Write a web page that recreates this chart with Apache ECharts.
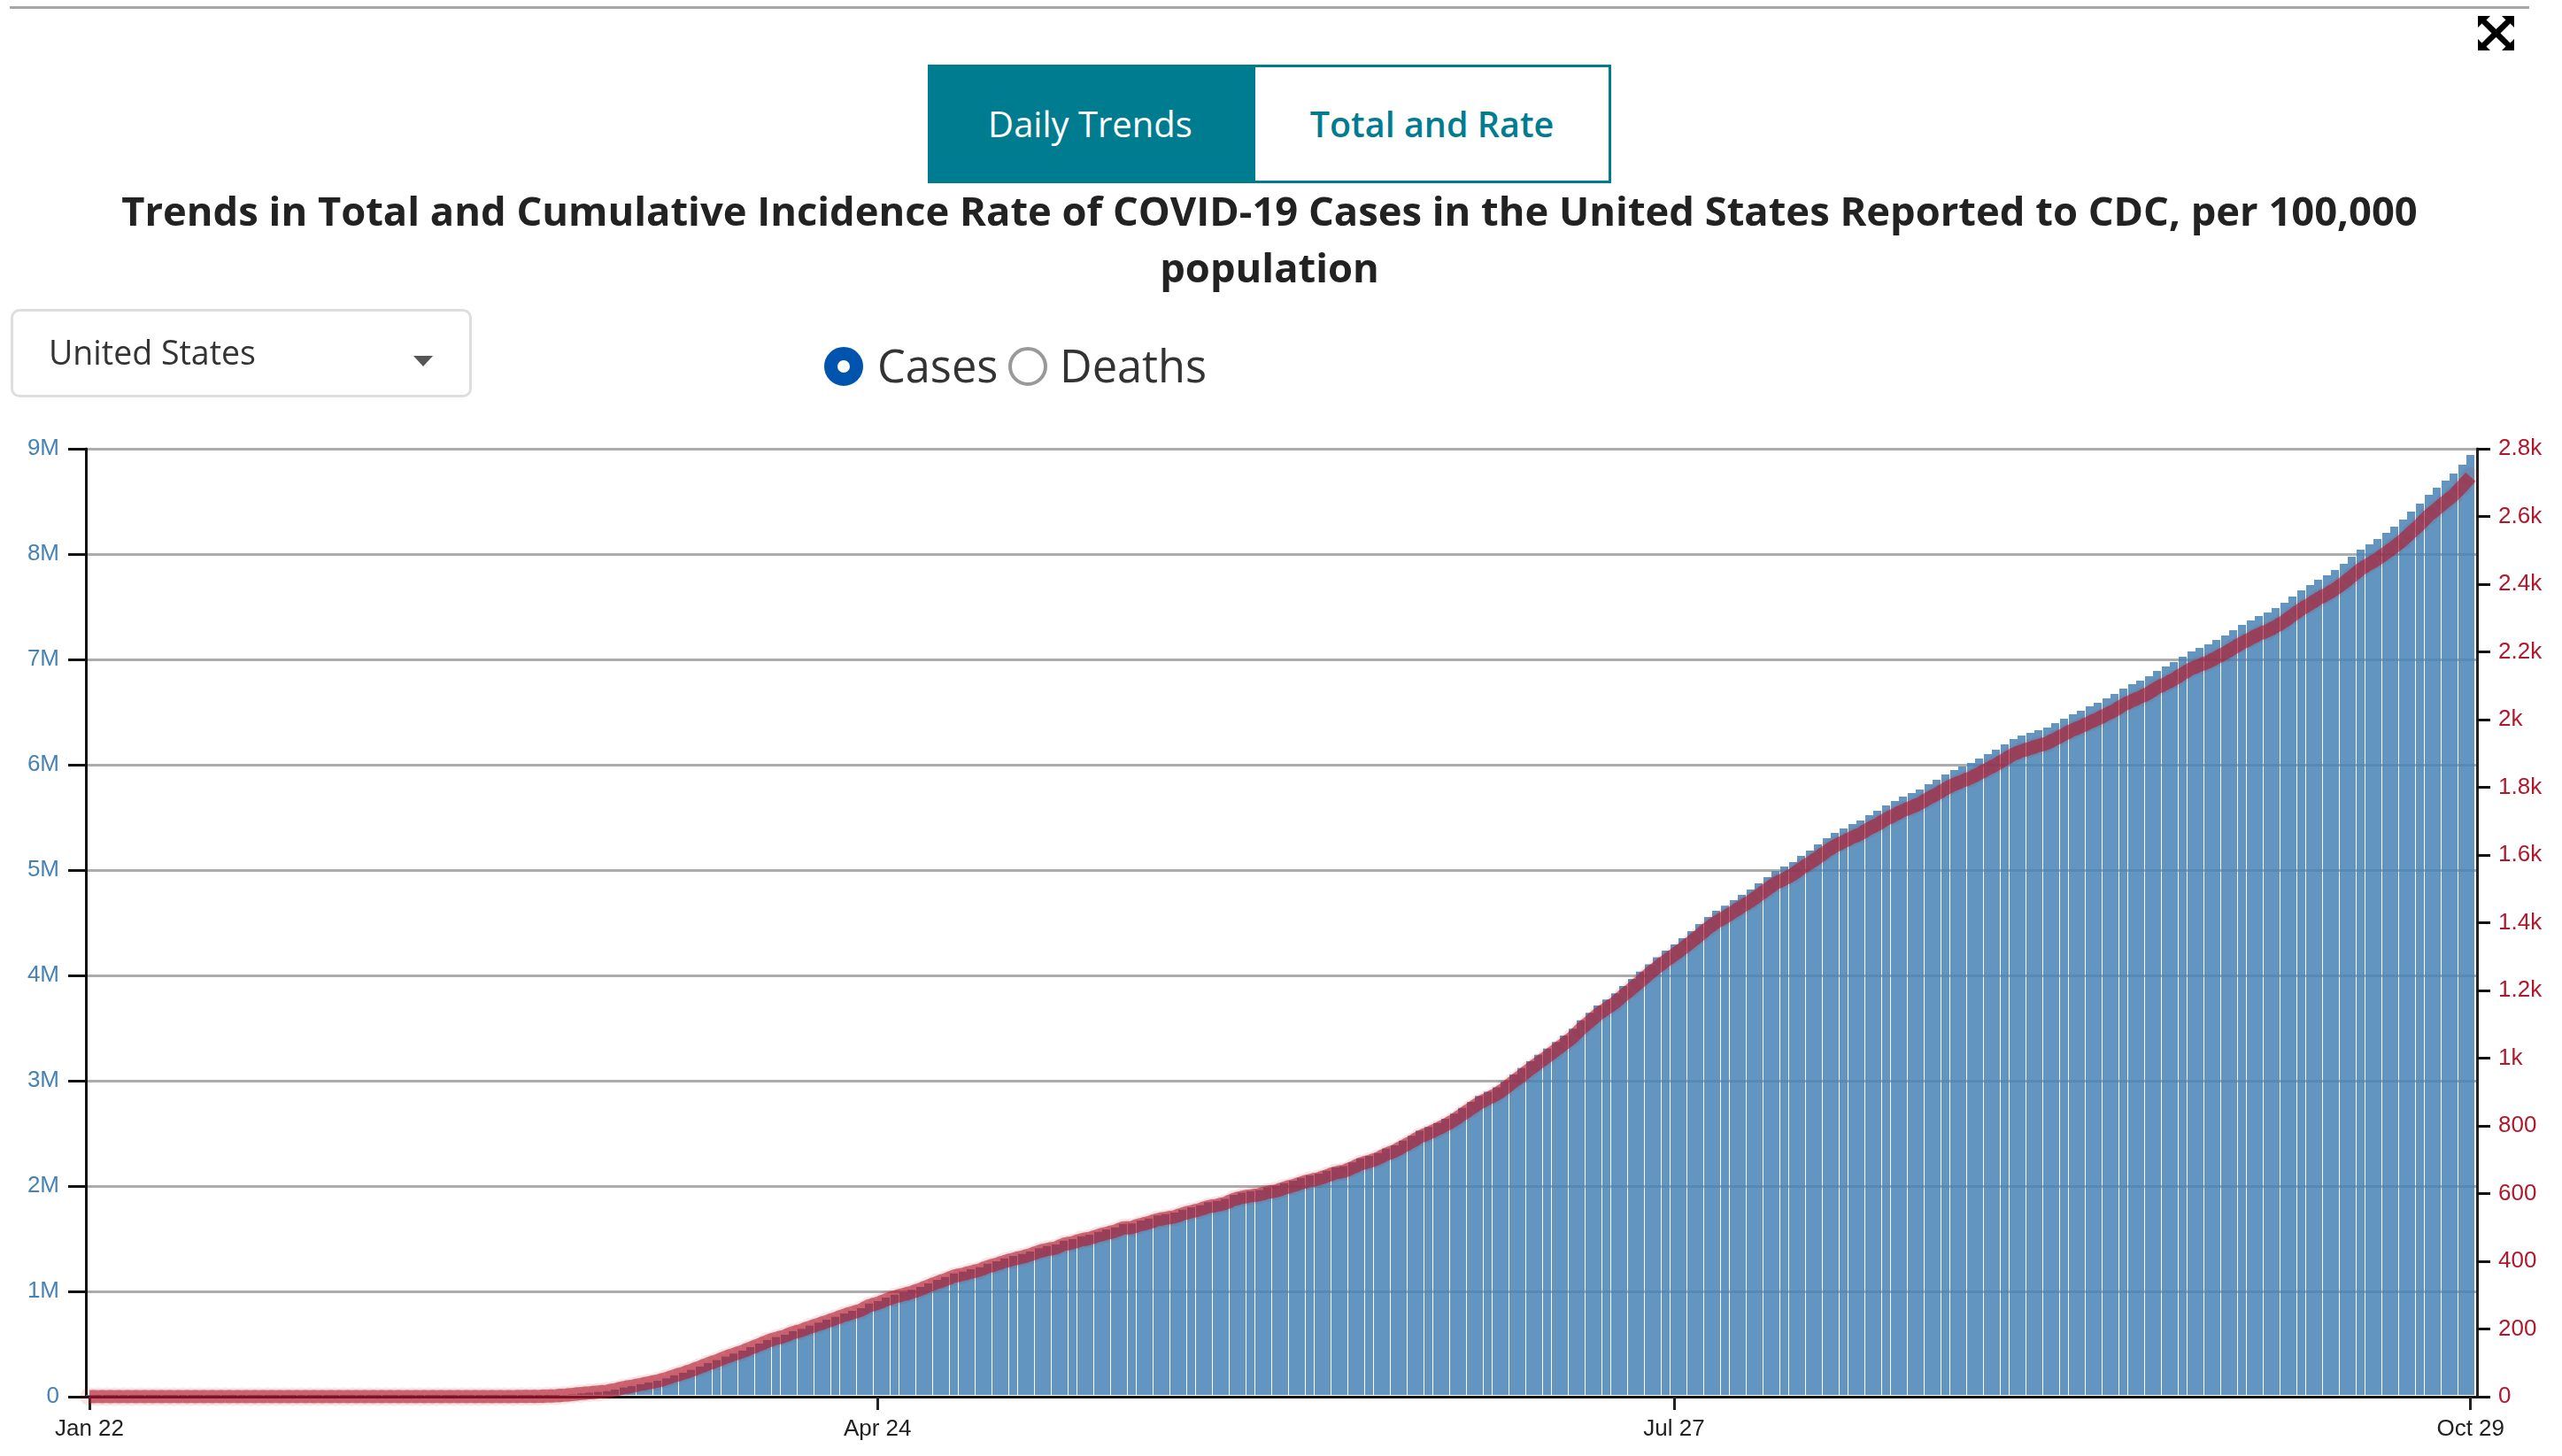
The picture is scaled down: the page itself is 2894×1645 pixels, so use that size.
<!DOCTYPE html>
<html>
<head>
<meta charset="utf-8">
<title>COVID-19 Total and Rate</title>
<script src="https://cdn.jsdelivr.net/npm/echarts@6/dist/echarts.min.js"></script>
<style>
    html, body { margin: 0; padding: 0; background: #fff; }
    body { width: 2894px; height: 1645px; position: relative; overflow: hidden; font-family: "Open Sans", sans-serif; color: #222; }
    #chart { position: absolute; left: 0; top: 0; width: 2894px; height: 1645px; }
    .abs { position: absolute; z-index: 2; box-sizing: border-box; }
    #topRule { left: 11px; top: 7px; width: 2846px; height: 3px; background: #a6a6a6; }
    #expand { left: 2799px; top: 18px; width: 41px; height: 39px; }
    .tab { top: 73px; height: 134px; line-height: 128px; text-align: center; font-size: 40px; border: 3px solid #007c91; }
    #tabDaily { left: 1048px; width: 367px; background: #007c91; color: #fff; }
    #tabTotal { left: 1415px; width: 405px; background: #fff; color: #007c91; font-weight: 600; font-size: 39.5px; }
    #region { left: 12px; top: 349px; width: 521px; height: 100px; border: 3px solid #dedede; border-radius: 10px; font-size: 37.5px; line-height: 92px; padding-left: 40px; color: #333; }
    #caret { left: 467px; top: 402px; width: 0; height: 0; border-left: 11px solid transparent; border-right: 11px solid transparent; border-top: 12px solid #555; }
    .radio { top: 392px; width: 44px; height: 44px; border-radius: 50%; }
    #radioCases { left: 931px; background: #fff; border: 15px solid #0054ad; }
    #radioDeaths { left: 1139px; background: #fff; border: 4px solid #999; }
    .radioText { top: 384px; font-size: 50.5px; line-height: 58px; color: #333; }
</style>
</head>
<body>
<div id="chart"></div>
<div class="abs" id="topRule"></div>
<svg class="abs" id="expand" viewBox="0 0 41 39">
    <path d="M0 0H14L9.5 4.5 20.5 15 31.500 4.500 27 0H41V13L36.500 8.500 25.500 19.500 36.500 30.500 41 26V39H27L31.500 34.500 20.500 24 9.500 34.500 14 39H0V26L4.500 30.500 15.500 19.500 4.500 8.500 0 13Z" fill="#000"/>
</svg>
<div class="abs tab" id="tabDaily">Daily Trends</div>
<div class="abs tab" id="tabTotal">Total and Rate</div>
<div class="abs" id="region">United States</div>
<div class="abs" id="caret"></div>
<div class="abs radio" id="radioCases"></div>
<div class="abs radioText" style="left: 991px;">Cases</div>
<div class="abs radio" id="radioDeaths"></div>
<div class="abs radioText" style="left: 1197px;">Deaths</div>
<script>
const titleText = 'Trends in Total and Cumulative Incidence Rate of COVID-19 Cases in the United States Reported to CDC, per 100,000\npopulation';

// day number counted from Jan 22, and what the axis prints there
const tickDays = [0, 93, 187, 281];
const tickDates = ['Jan 22', 'Apr 24', 'Jul 27', 'Oct 29'];
const leftTickLabels = ['0', '1M', '2M', '3M', '4M', '5M', '6M', '7M', '8M', '9M'];
const rightTickLabels = ['0', '200', '400', '600', '800', '1k', '1.2k', '1.4k', '1.6k', '1.8k', '2k', '2.2k', '2.4k', '2.6k', '2.8k'];

// total cases in thousands, one value per day from Jan 22 to Oct 29
const casesThousands = [
    0.001, 0.001, 0.002, 0.002, 0.005, 0.005, 0.005, 0.006, 0.006, 0.008,
    0.008, 0.008, 0.011, 0.011, 0.011, 0.012, 0.012, 0.013, 0.013, 0.013,
    0.013, 0.013, 0.013, 0.014, 0.014, 0.015, 0.015, 0.015, 0.015, 0.015,
    0.015, 0.015, 0.015, 0.025, 0.025, 0.025, 0.03, 0.03, 0.03, 0.043,
    0.075, 0.091, 0.118, 0.149, 0.217, 0.262, 0.402, 0.518, 0.583, 0.778,
    1.01, 1.267, 1.678, 2.234, 5.5, 9, 14, 22, 31, 38,
    45, 53, 67, 87, 101, 118, 134, 151, 174, 202,
    227, 255, 286, 319, 347, 381, 409, 437, 471, 504,
    538, 566, 588, 622, 644, 675, 703, 731, 759, 790,
    815, 840, 885, 907, 941, 969, 992, 1014, 1042, 1076,
    1109, 1137, 1171, 1188, 1210, 1230, 1263, 1286, 1314, 1336,
    1356, 1378, 1410, 1431, 1445, 1482, 1496, 1524, 1538, 1566,
    1588, 1608, 1641, 1644, 1672, 1692, 1720, 1734, 1748, 1776,
    1798, 1818, 1846, 1860, 1879, 1916, 1938, 1952, 1963, 1986,
    2000, 2028, 2050, 2078, 2101, 2118, 2146, 2176, 2190, 2224,
    2263, 2286, 2314, 2356, 2386, 2431, 2476, 2526, 2560, 2599,
    2639, 2686, 2742, 2798, 2854, 2896, 2938, 2994, 3059, 3120,
    3185, 3245, 3305, 3367, 3428, 3493, 3574, 3644, 3714, 3770,
    3829, 3899, 3966, 4036, 4106, 4173, 4235, 4294, 4353, 4420,
    4487, 4554, 4613, 4661, 4714, 4764, 4815, 4874, 4933, 4991,
    5033, 5075, 5134, 5185, 5243, 5302, 5353, 5395, 5437, 5470,
    5521, 5563, 5613, 5655, 5697, 5731, 5765, 5815, 5857, 5907,
    5949, 5983, 6017, 6059, 6101, 6143, 6193, 6243, 6277, 6302,
    6327, 6353, 6395, 6437, 6479, 6512, 6554, 6588, 6630, 6672,
    6722, 6764, 6798, 6840, 6890, 6932, 6974, 7025, 7075, 7109,
    7142, 7184, 7226, 7277, 7327, 7369, 7411, 7445, 7487, 7537,
    7596, 7655, 7705, 7756, 7798, 7848, 7907, 7974, 8042, 8092,
    8142, 8201, 8260, 8327, 8403, 8478, 8562, 8630, 8697, 8764,
    8848, 8941
];

// cumulative incidence per 100,000, same days
const ratePer100k = [
    0, 0, 0, 0, 0, 0, 0, 0, 0, 0,
    0, 0, 0, 0, 0, 0, 0, 0, 0, 0,
    0, 0, 0, 0, 0, 0, 0, 0, 0, 0,
    0, 0, 0, 0.01, 0.01, 0.01, 0.01, 0.01, 0.01, 0.01,
    0.02, 0.03, 0.04, 0.05, 0.07, 0.08, 0.12, 0.16, 0.18, 0.24,
    0.31, 0.38, 0.51, 0.68, 1.7, 2.7, 4.3, 6.7, 9.4, 11.5,
    13.7, 16.1, 20.4, 26.4, 30.7, 35.9, 40.7, 45.9, 52.9, 61.4,
    69, 77.5, 86.9, 96.9, 105.4, 115.8, 124.3, 132.8, 143.1, 153.1,
    163.5, 172, 178.7, 189, 195.7, 205.1, 213.6, 222.1, 230.6, 240,
    247.6, 255.2, 268.9, 275.6, 285.9, 294.4, 301.4, 308.1, 316.6, 327,
    337, 345.5, 355.8, 361, 367.7, 373.7, 383.8, 390.8, 399.3, 405.9,
    412, 418.7, 428.4, 434.8, 439.1, 450.3, 454.6, 463.1, 467.3, 475.8,
    482.5, 488.6, 498.6, 499.5, 508, 514.1, 522.6, 526.9, 531.2, 539.6,
    546.3, 552.4, 560.9, 565.2, 570.9, 582.2, 588.9, 593.1, 596.5, 603.5,
    607.7, 616.2, 622.9, 631.4, 638.4, 643.6, 652.1, 661.2, 665.5, 675.8,
    687.6, 694.6, 703.1, 715.9, 725, 738.7, 752.4, 767.5, 777.9, 789.7,
    801.9, 816.2, 833.2, 850.2, 867.2, 880, 892.7, 909.7, 929.5, 948,
    967.8, 986, 1004, 1023, 1042, 1061, 1086, 1107, 1129, 1146,
    1163, 1185, 1205, 1226, 1248, 1268, 1287, 1305, 1323, 1343,
    1363, 1384, 1402, 1416, 1432, 1448, 1463, 1481, 1499, 1517,
    1529, 1542, 1560, 1576, 1593, 1611, 1627, 1639, 1652, 1662,
    1678, 1690, 1706, 1718, 1731, 1741, 1752, 1767, 1780, 1795,
    1808, 1818, 1828, 1841, 1854, 1867, 1882, 1897, 1907, 1915,
    1923, 1930, 1943, 1956, 1969, 1979, 1991, 2002, 2015, 2027,
    2043, 2055, 2066, 2078, 2094, 2106, 2119, 2135, 2150, 2160,
    2170, 2183, 2196, 2211, 2226, 2239, 2252, 2262, 2275, 2290,
    2308, 2326, 2341, 2357, 2370, 2385, 2403, 2423, 2444, 2459,
    2474, 2492, 2510, 2530, 2553, 2576, 2602, 2622, 2643, 2663,
    2689, 2717
];

const axisFont = '"Liberation Sans", Arial, sans-serif';
const lineRed = '#b2182b';

// constant 9px bars on whole pixels: the 9.57px day step then leaves the same
// irregular 1px white seams the original shows
function renderDayBar(params, api) {
    const top = api.coord([api.value(0), api.value(1)]);
    const base = api.coord([api.value(0), 0]);
    return {
        type: 'rect',
        shape: { x: Math.round(top[0] - 4.33), y: top[1], width: 9, height: base[1] - top[1] - 2 },
        style: { fill: '#4682b4', opacity: 0.85 }
    };
}

const myChart = echarts.init(document.getElementById('chart'));
const option = {
    animation: false,
    title: {
        text: titleText,
        left: 1429,
        top: 205,
        textAlign: 'center',
        textStyle: {
            fontFamily: '"Open Sans"',
            fontWeight: 'bold',
            fontSize: 45.3,
            lineHeight: 64,
            color: '#222'
        }
    },
    grid: { left: 97, right: 96, top: 507, bottom: 67 },
    xAxis: {
        type: 'value',
        min: -0.418,
        max: 281.76,
        z: 3,
        splitLine: { show: false },
        axisLine: { lineStyle: { color: '#111', width: 3 } },
        axisTick: { customValues: tickDays, length: 15, lineStyle: { color: '#222', width: 3 } },
        axisLabel: {
            customValues: tickDays,
            margin: 24,
            fontFamily: axisFont,
            fontSize: 26,
            color: '#222',
            formatter: function(value) {
                return tickDates[tickDays.indexOf(value)];
            }
        }
    },
    yAxis: [{
        type: 'value',
        min: 0,
        max: 9000,
        interval: 1000,
        axisLine: { show: true, onZero: false, lineStyle: { color: '#111', width: 3 } },
        axisTick: { show: true, length: 20, lineStyle: { color: '#111', width: 3 } },
        splitLine: { show: true, lineStyle: { color: '#acacac', width: 3 } },
        axisLabel: {
            margin: 30,
            padding: [2, 0, 0, 0],
            fontFamily: axisFont,
            fontSize: 26,
            color: '#4682b4',
            formatter: function(value) {
                return leftTickLabels[value / 1000];
            }
        }
    }, {
        type: 'value',
        position: 'right',
        min: 0,
        max: 2800,
        interval: 200,
        axisLine: { show: true, onZero: false, lineStyle: { color: '#222', width: 3 } },
        axisTick: { show: true, length: 15, lineStyle: { color: '#111', width: 3 } },
        splitLine: { show: false },
        axisLabel: {
            margin: 24,
            padding: [2, 0, 0, 0],
            fontFamily: axisFont,
            fontSize: 26,
            color: lineRed,
            formatter: function(value) {
                return rightTickLabels[value / 200];
            }
        }
    }],
    series: [{
        name: 'Total cases',
        type: 'custom',
        yAxisIndex: 0,
        z: 2,
        renderItem: renderDayBar,
        encode: { x: 0, y: 1 },
        data: casesThousands.map(function(v, i) { return [i, v]; })
    }, {
        name: 'Cumulative incidence rate',
        type: 'line',
        yAxisIndex: 1,
        z: 4,
        symbol: 'circle',
        symbolSize: 21,
        showSymbol: true,
        showAllSymbol: true,
        lineStyle: { color: lineRed, width: 15, opacity: 0.6, join: 'round' },
        itemStyle: { color: lineRed, opacity: 0.1 },
        data: ratePer100k.map(function(v, i) { return [i, v]; })
    }]
};
myChart.setOption(option);
</script>
</body>
</html>
